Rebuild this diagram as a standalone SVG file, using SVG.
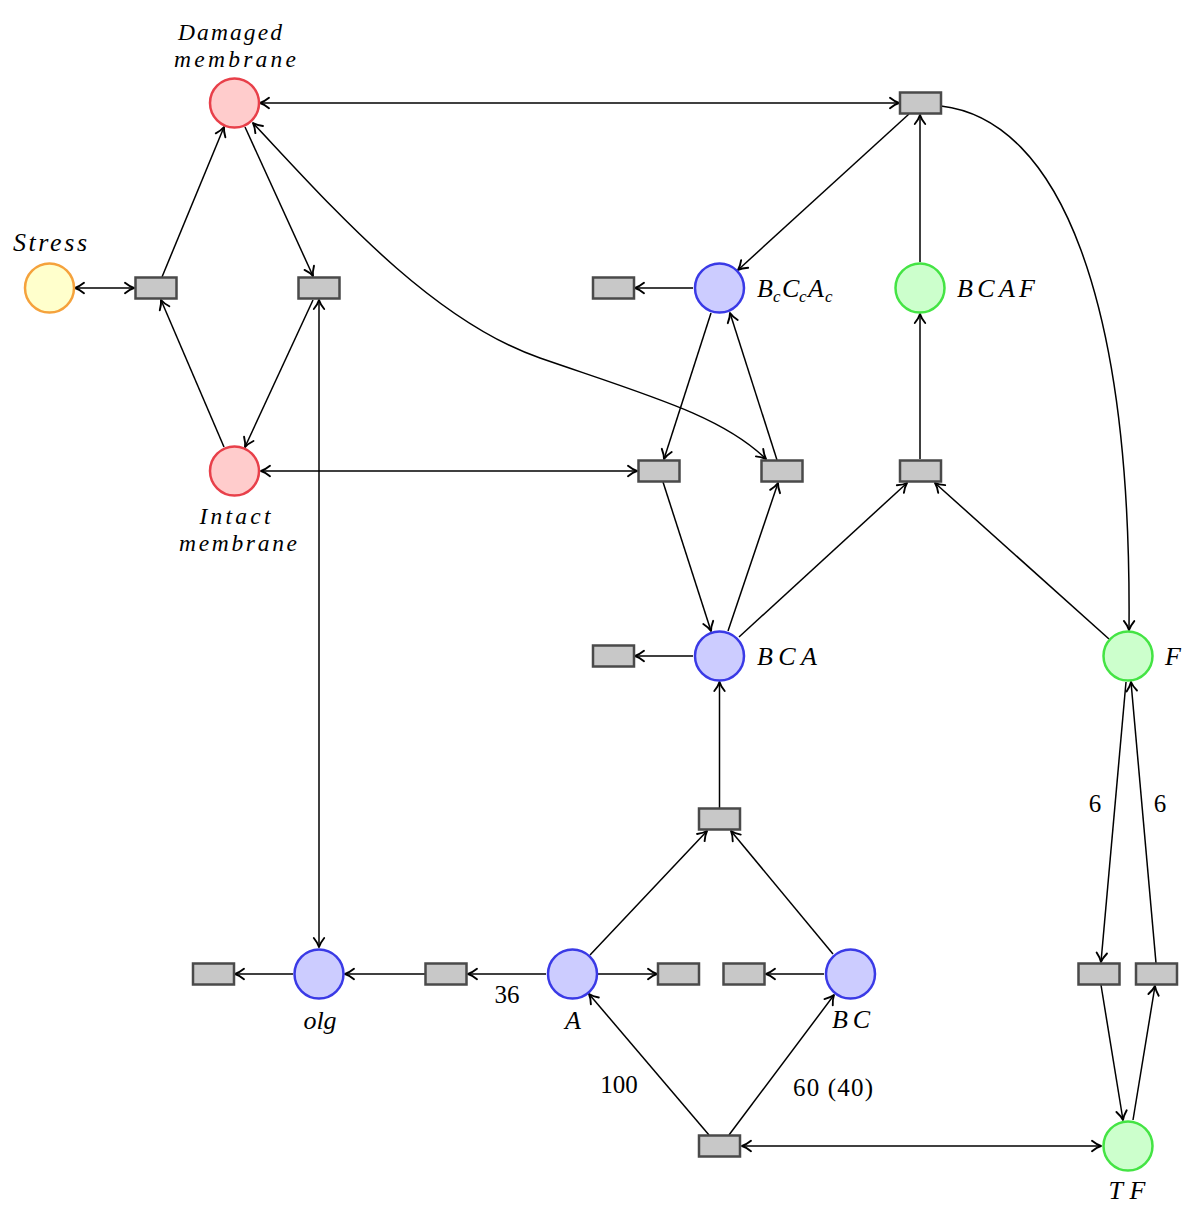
<svg xmlns="http://www.w3.org/2000/svg" width="1200" height="1220" viewBox="0 0 1200 1220">
<defs>
<marker id="arr" viewBox="-12 -7 14 14" refX="0" refY="0" markerWidth="14" markerHeight="14" markerUnits="userSpaceOnUse" orient="auto-start-reverse" overflow="visible">
<path d="M-9,-5.2 Q-4,-1.2 0,0 Q-4,1.2 -9,5.2" fill="none" stroke="#000" stroke-width="1.9" stroke-linecap="round" stroke-linejoin="round"/>
</marker>
</defs>
<style>
.bg{fill:#fff}
.red{fill:#ffcccc;stroke:#e8404a;stroke-width:2.5}
.yel{fill:#ffffcc;stroke:#f5a23c;stroke-width:2.5}
.blue{fill:#ccccff;stroke:#3a3ae6;stroke-width:2.5}
.grn{fill:#ccffcc;stroke:#44e444;stroke-width:2.5}
.tr{fill:#c8c8c8;stroke:#4a4a4a;stroke-width:2.5}
.e{fill:none;stroke:#000;stroke-width:1.5}
.a{marker-end:url(#arr)}
.d{marker-start:url(#arr);marker-end:url(#arr)}
.lb{font-family:"Liberation Serif","DejaVu Serif",serif;font-style:italic;font-size:26px;fill:#000}
.lb2{font-family:"Liberation Serif","DejaVu Serif",serif;font-style:italic;font-size:23.5px;fill:#000}
.nm{font-family:"Liberation Serif","DejaVu Serif",serif;font-size:25px;fill:#000}
.sub{font-size:17px}
</style>
<rect class="bg" x="0" y="0" width="1200" height="1220"/>

<g id="connectors">
<path class="e d" d="M260,103 L899,103"/>
<path class="e a" d="M909,114 L738,270"/>
<path class="e a" d="M920,262 L920,115"/>
<path class="e a" d="M941,106 C1060,120 1132,300 1129,630"/>
<path class="e a" d="M162,277 L224,127"/>
<path class="e a" d="M245,127 L313,276"/>
<path class="e d" d="M75,288 L134,288"/>
<path class="e a" d="M224,447 L161,300"/>
<path class="e a" d="M313,300 L245,447"/>
<path class="e d" d="M319,300 L319,947"/>
<path class="e d" d="M261,471 L637,471"/>
<path class="e d" d="M253,123 C330,205 430,320 540,358 S722,416 766,459"/>
<path class="e a" d="M693,288 L635,288"/>
<path class="e a" d="M711,313 L664,459"/>
<path class="e a" d="M777,460 L730,313"/>
<path class="e a" d="M663,482 L711,631"/>
<path class="e a" d="M728,631 L778,483"/>
<path class="e a" d="M739,637 L907,483"/>
<path class="e a" d="M1109,639 L935,483"/>
<path class="e a" d="M920,459 L920,314"/>
<path class="e a" d="M693,656 L635,656"/>
<path class="e a" d="M719.5,808 L719.5,682"/>
<path class="e a" d="M590,955 L707,831"/>
<path class="e a" d="M833,954 L731,831"/>
<path class="e a" d="M293,974 L235,974"/>
<path class="e a" d="M425,974 L345,974"/>
<path class="e a" d="M546,974 L468,974"/>
<path class="e a" d="M598,974 L657,974"/>
<path class="e a" d="M824,974 L766,974"/>
<path class="e a" d="M709,1135 L589,994"/>
<path class="e a" d="M729,1135 L834,995"/>
<path class="e d" d="M742,1146 L1101,1146"/>
<path class="e a" d="M1126,682 L1101,962"/>
<path class="e a" d="M1156,963 L1131,682"/>
<path class="e a" d="M1101,985 L1123,1120"/>
<path class="e a" d="M1133,1120 L1155,986"/>
</g>

<g id="edge-labels">
<text class="nm" x="507" y="1003" text-anchor="middle">36</text>
<text class="nm" x="619" y="1093" text-anchor="middle">100</text>
<text class="nm" x="833" y="1096" text-anchor="middle" textLength="80" lengthAdjust="spacing">60 (40)</text>
<text class="nm" x="1095" y="812" text-anchor="middle">6</text>
<text class="nm" x="1160" y="812" text-anchor="middle">6</text>
</g>

<g id="damaged-membrane">
<circle class="red" cx="234.5" cy="103" r="24.5"/>
<text class="lb2" x="230" y="40" text-anchor="middle" textLength="104" lengthAdjust="spacing">Damaged</text>
<text class="lb2" x="235" y="67" text-anchor="middle" textLength="122" lengthAdjust="spacing">membrane</text>
</g>
<g id="stress">
<circle class="yel" cx="49.5" cy="288" r="24.5"/>
<text class="lb" x="50" y="251" text-anchor="middle" textLength="74" lengthAdjust="spacing">Stress</text>
</g>
<g id="intact-membrane">
<circle class="red" cx="234.5" cy="471" r="24.5"/>
<text class="lb2" x="235" y="524" text-anchor="middle" textLength="71" lengthAdjust="spacing">Intact</text>
<text class="lb2" x="238" y="551" text-anchor="middle" textLength="118" lengthAdjust="spacing">membrane</text>
</g>
<g id="BcCcAc">
<circle class="blue" cx="719.5" cy="288" r="24.5"/>
<text class="lb"><tspan x="757" y="297">B</tspan><tspan class="sub" x="773" y="302">c</tspan><tspan x="782" y="297">C</tspan><tspan class="sub" x="799" y="302">c</tspan><tspan x="808" y="297">A</tspan><tspan class="sub" x="825" y="302">c</tspan></text>
</g>
<g id="BCAF">
<circle class="grn" cx="920" cy="288" r="24.5"/>
<text class="lb" x="957" y="297" textLength="78" lengthAdjust="spacing">BCAF</text>
</g>
<g id="BCA">
<circle class="blue" cx="719.5" cy="656" r="24.5"/>
<text class="lb" x="757" y="665" textLength="60" lengthAdjust="spacing">BCA</text>
</g>
<g id="F">
<circle class="grn" cx="1128" cy="656" r="24.5"/>
<text class="lb" x="1165" y="665">F</text>
</g>
<g id="olg">
<circle class="blue" cx="319" cy="974" r="24.5"/>
<text class="lb" x="320" y="1029" text-anchor="middle" textLength="33" lengthAdjust="spacing">olg</text>
</g>
<g id="A">
<circle class="blue" cx="572.5" cy="974" r="24.5"/>
<text class="lb" x="573" y="1029" text-anchor="middle">A</text>
</g>
<g id="BC">
<circle class="blue" cx="850.5" cy="974" r="24.5"/>
<text class="lb" x="851" y="1028" text-anchor="middle" textLength="38" lengthAdjust="spacing">BC</text>
</g>
<g id="TF">
<circle class="grn" cx="1128" cy="1146" r="24.5"/>
<text class="lb" x="1127" y="1199" text-anchor="middle" textLength="37" lengthAdjust="spacing">TF</text>
</g>

<g id="t-top"><rect class="tr" x="900" y="92.5" width="41" height="21"/></g>
<g id="t-stress"><rect class="tr" x="135.5" y="277.5" width="41" height="21"/></g>
<g id="t-dm-im"><rect class="tr" x="298.5" y="277.5" width="41" height="21"/></g>
<g id="t-bccca-out"><rect class="tr" x="593" y="277.5" width="41" height="21"/></g>
<g id="t-im"><rect class="tr" x="638.5" y="460.5" width="41" height="21"/></g>
<g id="t-bca-bccca"><rect class="tr" x="761.5" y="460.5" width="41" height="21"/></g>
<g id="t-bcaf"><rect class="tr" x="900" y="460.5" width="41" height="21"/></g>
<g id="t-bca-out"><rect class="tr" x="593" y="645.5" width="41" height="21"/></g>
<g id="t-bca-in"><rect class="tr" x="699" y="808.5" width="41" height="21"/></g>
<g id="t-olg-out"><rect class="tr" x="193" y="963.5" width="41" height="21"/></g>
<g id="t-olg-in"><rect class="tr" x="425.5" y="963.5" width="41" height="21"/></g>
<g id="t-a-out"><rect class="tr" x="658" y="963.5" width="41" height="21"/></g>
<g id="t-bc-out"><rect class="tr" x="723.5" y="963.5" width="41" height="21"/></g>
<g id="t-f-tf"><rect class="tr" x="1078.5" y="963.5" width="41" height="21"/></g>
<g id="t-tf-f"><rect class="tr" x="1136" y="963.5" width="41" height="21"/></g>
<g id="t-bottom"><rect class="tr" x="699" y="1135.5" width="41" height="21"/></g>
</svg>
